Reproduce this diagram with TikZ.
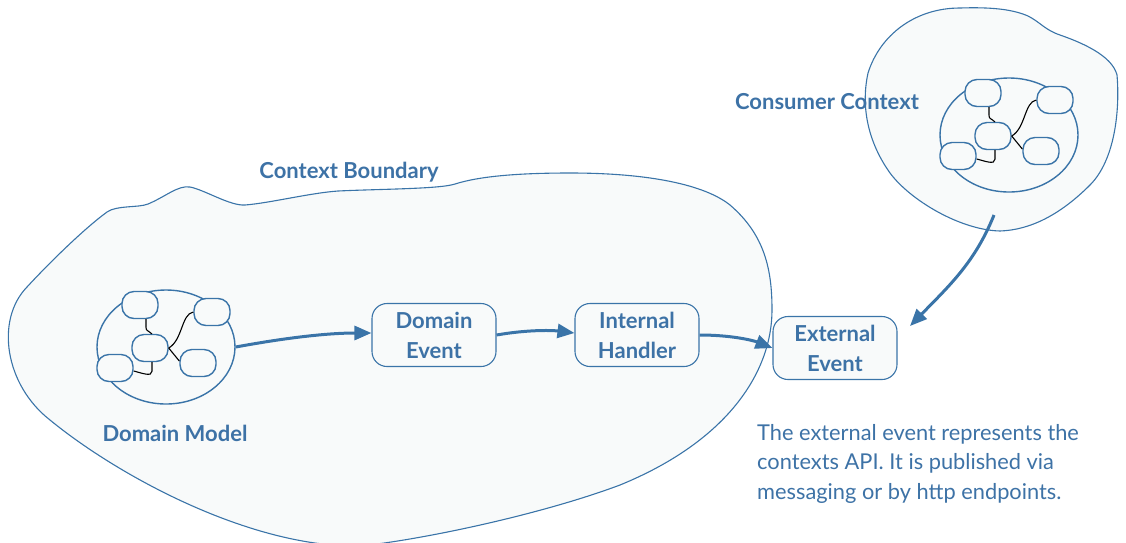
\documentclass[tikz,border=0pt]{standalone}
\usepackage{fontspec}
\setmainfont{Lato}
\usetikzlibrary{arrows.meta,shapes.geometric}
\definecolor{mblue}{HTML}{3A74A8}
\definecolor{tblue}{HTML}{3D72A6}
\definecolor{bfill}{HTML}{F8FAFA}
\tikzset{
  blob/.style={draw=mblue, line width=1.1pt, fill=bfill},
  minibox/.style={draw=mblue, line width=1.4pt, fill=bfill, rounded corners=12pt, minimum width=36pt, minimum height=27pt, inner sep=0pt},
  blk/.style={draw=black, line width=1.1pt},
  evbox/.style={draw=mblue, line width=1.1pt, fill=bfill, rounded corners=15pt, minimum width=124pt, minimum height=63pt, inner sep=0pt, align=center, text=tblue, font=\fontsize{22}{30}\selectfont\bfseries},
  flow/.style={draw=mblue, line width=3pt, -{Triangle[length=17pt,width=14pt]}},
  lbl/.style={text=tblue, font=\fontsize{22}{26}\selectfont\bfseries, inner sep=0pt},
  model/.pic={
    \node[ellipse, draw=mblue, line width=1.4pt, fill=bfill, minimum width=138pt, minimum height=114pt, inner sep=0pt] (-e) at (0,0) {};
    \node[minibox] (-tl) at (-26,-42) {};
    \node[minibox] (-tr) at (46,-35) {};
    \node[minibox] (-c) at (-16,1) {};
    \node[minibox] (-bl) at (-51,21) {};
    \node[minibox] (-br) at (32,16) {};
    \draw[blk] ([xshift=6pt]-tl.south) -- ++(0,8) .. controls +(0,4) and +(-3,-3) .. ++(5,6) -- ([xshift=2pt]-c.north);
    \draw[blk] (-c.east) .. controls +(14,-8) and +(-12,2) .. (-tr.west);
    \draw[blk] (-c.east) -- ([yshift=2pt]-br.west);
    \draw[blk] ([xshift=2pt]-c.south) -- ++(0,9) .. controls +(0,6) and +(8,2) .. ([yshift=-3pt]-bl.east);
  }
}
\begin{document}
\begin{tikzpicture}[x=1pt, y=-1pt]
\useasboundingbox (0,0) rectangle (1126,542);
\begin{scope}
\clip (0,0) rectangle (1126,542);
% big context boundary
\path[blob] (27,287) .. controls (50,262) and (85,228) .. (107,212)
  .. controls (117,205) and (138,208) .. (148,204)
  .. controls (165,197) and (178,185) .. (190,187)
  .. controls (205,190) and (230,206) .. (245,205)
  .. controls (270,203) and (310,193) .. (338,191)
  .. controls (380,189) and (440,189) .. (455,184)
  .. controls (480,176) and (520,173) .. (570,173)
  .. controls (650,173) and (705,185) .. (730,205)
  .. controls (765,235) and (772,270) .. (772,310)
  .. controls (772,370) and (730,440) .. (620,485)
  .. controls (540,515) and (420,540) .. (360,546)
  .. controls (250,548) and (117,475) .. (50,420)
  .. controls (5,385) and (-5,320) .. (27,287) -- cycle;
\end{scope}
% consumer context
\path[blob] (868,73) .. controls (880,35) and (915,8) .. (960,8)
  .. controls (990,7) and (1012,9) .. (1028,16)
  .. controls (1040,22) and (1045,30) .. (1060,35)
  .. controls (1080,42) and (1112,55) .. (1117,75)
  .. controls (1120,110) and (1115,160) .. (1090,185)
  .. controls (1060,215) and (1030,230) .. (1000,231)
  .. controls (960,230) and (910,200) .. (890,173)
  .. controls (870,145) and (860,110) .. (868,73) -- cycle;
\pic (dm) at (166,347) {model};
\pic (cm) at (1009,135) {model};

\node[evbox] (de) at (434,335) {Domain\\Event};
\node[evbox] (ih) at (637,335) {Internal\\Handler};
\node[evbox] (ee) at (835,348) {External\\Event};

\coordinate (cstart) at (994,215);
\coordinate (cend) at (910,326);

\draw[flow] (dm-e.east) .. controls (290,337) and (330,333) .. ([yshift=2pt]de.west);
\draw[flow] (de.east) .. controls (525,330) and (550,330) .. ([yshift=2pt]ih.west);
\draw[flow] (ih.east) .. controls (730,335) and (752,340) .. (ee.west);
\draw[flow] (cstart) .. controls (975,262) and (950,285) .. (cend);

\node[lbl] (cb) at (349,172) {Context Boundary};
\node[lbl] (cc) at (827,102) {Consumer Context};
\node[lbl] (dml) at (175,433) {Domain Model};
\node[text=tblue, font=\fontsize{21.8}{29.5}\selectfont, align=left, anchor=north west, inner sep=0pt] (desc) at (757,424) {The external event represents the\\contexts API. It is published via\\messaging or by http endpoints.};
\end{tikzpicture}
\end{document}
